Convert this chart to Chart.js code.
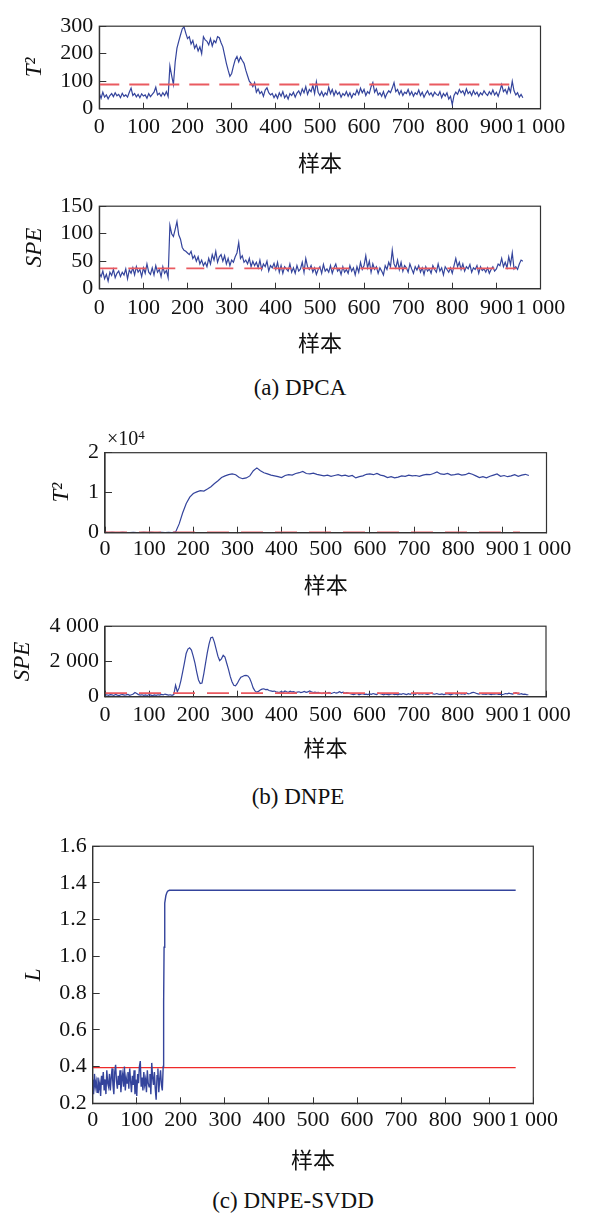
<!DOCTYPE html>
<html><head><meta charset="utf-8">
<script src="https://cdn.jsdelivr.net/npm/chart.js@4"></script>
<style>
body{margin:0;background:#fff;width:595px;height:1213px;position:relative;overflow:hidden;font-family:'Liberation Serif','Noto Sans CJK SC',serif;color:#111;}
canvas{position:absolute;left:0;}
.cap{position:absolute;left:0;text-align:center;font-size:23px;line-height:26px;}
.mult{position:absolute;font-size:20px;line-height:22px;}
.mult sup{font-size:13px;vertical-align:top;position:relative;top:-3px;}
</style></head><body>
<canvas id="c1" width="595" height="180" style="top:0px"></canvas>
<canvas id="c2" width="595" height="180" style="top:180px"></canvas>
<div class="cap" style="top:375px;width:600px">(a) DPCA</div>
<canvas id="c3" width="595" height="180" style="top:420px"></canvas>
<div class="mult" style="left:107px;top:427px">×10<sup>4</sup></div>
<canvas id="c4" width="595" height="170" style="top:600px"></canvas>
<div class="cap" style="top:784px;width:596px">(b) DNPE</div>
<canvas id="c5" width="595" height="360" style="top:820px"></canvas>
<div class="cap" style="top:1188px;width:586px">(c) DNPE-SVDD</div>
<script>
// ---------------- data ----------------
const xTickValues = [0,100,200,300,400,500,600,700,800,900,1000];

// (a) DPCA T2, one value every 4 samples (0..960)
const dpcaStep = 4;
const dpcaT2 = [
55,38,60,42,50,36,48,55,44,58,
47,52,40,56,45,50,42,60,75,48,
55,43,52,40,54,46,50,38,55,44,
52,60,78,50,56,45,58,48,62,44,
155,120,88,170,220,245,268,290,298,275,
255,262,235,248,220,232,210,225,200,262,
250,245,232,255,228,248,240,262,258,240,
225,195,165,140,118,128,155,178,190,170,
188,175,165,140,120,100,92,80,95,60,
72,55,62,45,68,76,58,50,55,40,
52,38,58,45,62,40,50,35,55,48,
60,42,57,65,50,72,58,80,52,70,
62,85,55,98,60,48,62,45,58,50,
78,55,70,48,65,52,60,42,55,48,
62,45,58,40,55,50,68,52,75,58,
70,48,62,55,80,95,60,72,50,58,
45,62,40,55,65,58,75,95,62,70,
52,66,48,60,55,70,50,62,45,58,
52,68,48,60,42,55,65,50,58,45,
60,52,48,62,40,55,46,58,35,45,
15,48,60,52,70,58,65,50,72,55,
62,48,66,52,60,45,58,50,65,55,
48,62,52,68,50,60,45,65,88,62,
70,55,78,60,100,65,50,58,42,52,
40];
const dpcaT2Limit = 88;
const dpcaT2Ticks = [0,100,200,300];

// (a) DPCA SPE
const dpcaSPE = [
28,22,32,18,26,14,30,24,35,20,
28,32,22,30,25,36,18,34,28,38,
25,40,30,35,22,38,28,45,30,26,
38,25,42,30,35,22,40,28,33,20,
115,100,95,108,122,98,90,75,70,68,
65,62,68,55,60,50,58,45,52,42,
48,40,55,45,62,52,68,48,58,62,
50,60,45,55,42,52,48,58,65,84,
55,60,48,52,45,55,40,50,42,48,
38,52,35,45,40,50,32,42,38,46,
35,48,30,42,28,40,36,32,45,30,
38,28,42,32,36,48,30,55,40,35,
42,30,38,26,35,40,28,44,32,36,
30,42,28,38,45,32,36,26,40,30,
35,28,42,32,38,25,40,30,48,35,
42,60,38,50,30,45,35,40,28,38,
32,25,42,35,48,40,70,45,38,52,
35,48,32,42,38,30,45,36,28,40,
34,42,30,38,26,40,32,36,28,42,
35,30,45,32,38,25,40,35,30,38,
28,42,55,40,48,35,45,32,40,36,
44,30,38,35,42,28,40,33,36,30,
38,28,35,40,32,36,45,42,55,40,
48,38,58,44,65,36,40,35,45,52,
50];
const dpcaSPELimit = 37;
const dpcaSPETicks = [0,50,100,150];

// (b) DNPE T2, one value every 8 samples
const dnpeT2Step = 8;
const dnpeT2 = [
60,40,80,50,30,70,50,40,60,50,
40,70,50,60,30,50,80,40,60,50,
200,2200,5000,7300,8900,9800,10200,10500,10400,10900,
11500,12300,13000,13800,14200,14500,14700,14500,13800,13500,
13700,14200,15500,16200,15500,15000,14700,14400,14200,14000,
13800,14300,14500,14400,14800,15000,15300,14800,14700,14900,
14600,14400,14200,14400,14100,14300,14500,14200,14400,14100,
14300,13700,14000,14200,14600,14700,14500,14800,14400,14200,
13800,14000,13700,13900,14200,14100,14400,14200,14300,14100,
14400,14600,14500,14800,15200,14700,14600,14800,14400,14500,
14700,14400,14500,14900,14600,14200,13800,14000,13700,14100,
14400,14700,14100,14300,14000,14200,14500,14100,14400,14600,
14300];
const dnpeT2Limit = 80;
const dnpeT2Ticks = [0,10000,20000];

// (b) DNPE SPE, one value every 4 samples
const dnpeSPEStep = 4;
const dnpeSPE = [
90,110,80,120,100,70,130,90,60,110,
120,90,100,130,80,110,150,240,180,120,
90,110,80,100,70,120,90,60,100,80,
110,90,130,100,150,120,90,110,80,120,
650,280,500,900,1400,1900,2450,2700,2770,2650,
2300,1900,1400,950,750,780,1300,1900,2500,3000,
3350,3380,3100,2700,2300,2050,2150,2350,2250,1900,
1550,1150,850,650,620,750,950,1100,1150,1200,
1210,1180,1050,800,500,330,260,300,380,430,
450,400,420,350,330,300,320,280,260,250,
300,240,320,280,250,310,270,290,240,260,
280,230,260,300,250,270,330,280,240,260,
230,250,200,180,220,160,200,240,180,210,
250,200,230,280,220,260,190,230,200,170,
150,120,160,180,110,140,170,130,150,120,
160,130,180,150,120,200,170,140,110,150,
130,100,150,170,120,140,110,160,130,180,
150,120,170,140,190,160,130,200,150,170,
140,180,150,130,170,200,160,140,180,150,
130,160,120,150,170,140,110,150,180,140,
160,190,150,170,140,200,160,180,230,250,
210,170,150,180,140,160,130,170,150,120,
160,140,170,130,150,120,140,180,160,200,
170,150,190,230,160,140,170,130,150,120,
110];
const dnpeSPELimit = 200;
const dnpeSPETicks = [0,2000,4000];

// (c) DNPE-SVDD L: normal part every 2 samples, then the fault part
const svddStep = 2;
const svddNormal = [
0.33,0.25,0.36,0.29,0.32,0.26,0.34,0.28,0.31,0.24,
0.35,0.30,0.37,0.27,0.33,0.25,0.38,0.31,0.29,0.36,
0.27,0.34,0.39,0.30,0.25,0.37,0.41,0.32,0.28,0.35,
0.30,0.38,0.26,0.33,0.36,0.29,0.40,0.27,0.34,0.31,
0.37,0.28,0.39,0.32,0.26,0.35,0.30,0.38,0.25,0.33,
0.24,0.36,0.31,0.40,0.43,0.29,0.34,0.27,0.37,0.30,
0.33,0.26,0.38,0.31,0.29,0.36,0.25,0.42,0.34,0.30,
0.37,0.28,0.22,0.35,0.39,0.26,0.33,0.38,0.30,0.27];
const svddFaultSamples = [160,161,162,163,164,166,168,170,174,180,960];
const svddFaultValues  = [0.40,0.75,1.05,1.22,1.29,1.33,1.345,1.355,1.36,1.36,1.36];
const svddLimit = 0.394;
const svddTicks = [0.2,0.4,0.6,0.8,1.0,1.2,1.4,1.6];

// ---------------- drawing ----------------
const BLUE = '#34449c', RED_DASH = '#ea5a60', RED = '#ee2a2a', AX = '#333';
const SERIF = "'Liberation Serif', 'Times New Roman', serif";
const stepPts = (vals, step) => vals.map((v, i) => ({x: i * step, y: v}));
const limitPts = (v, x1) => [{x: 0, y: v}, {x: x1, y: v}];

const frame = {id: 'frame', afterDraw(chart) {
  const {ctx, chartArea: a} = chart;
  ctx.save(); ctx.strokeStyle = AX; ctx.lineWidth = 1.2;
  ctx.strokeRect(a.left, a.top, a.right - a.left, a.bottom - a.top);
  ctx.restore();
}};

function makeChart(id, o) {
  const canvas = document.getElementById(id);
  const W = 595, H = canvas.height;
  return new Chart(canvas, {
    type: 'line',
    data: {datasets: o.datasets},
    options: {
      responsive: false, animation: false, devicePixelRatio: 1,
      layout: {padding: {left: 0, top: o.area.top, right: W - o.area.right, bottom: 0}},
      plugins: {legend: {display: false}, tooltip: {enabled: false}},
      elements: {point: {radius: 0}, line: {tension: 0}},
      scales: {
        x: {
          type: 'linear', min: 0, max: 1000,
          afterBuildTicks: s => { s.ticks = xTickValues.map(v => ({value: v})); },
          afterFit: s => { s.height = H - o.area.bottom; },
          grid: {drawOnChartArea: false, drawTicks: true, tickLength: -6, color: AX, lineWidth: 1},
          border: {display: true, color: AX, width: 1.2},
          ticks: {padding: o.xPad, color: '#111', font: {family: SERIF, size: 22}, maxRotation: 0, autoSkip: false,
                  callback: v => v === 1000 ? '1 000' : String(v)},
          title: {display: true, text: '样本', color: '#111',
                  font: {family: "'Noto Sans CJK SC', sans-serif", size: 22}, padding: {top: 0, bottom: o.xTitlePad}}
        },
        y: {
          type: 'linear', min: o.yTicks[0], max: o.yTicks[o.yTicks.length - 1],
          afterBuildTicks: s => { s.ticks = o.yTicks.map(v => ({value: v})); },
          afterFit: s => { s.width = o.area.left; },
          grid: {drawOnChartArea: false, drawTicks: true, tickLength: -7, color: AX, lineWidth: 1},
          border: {display: true, color: AX, width: 1.2},
          ticks: {padding: 13, color: '#111', font: {family: SERIF, size: 22}, autoSkip: false, callback: o.yFmt},
          title: {display: true, text: o.yTitle, color: '#111',
                  font: {family: SERIF, size: 23, style: 'italic'}, padding: {top: o.yTitlePad, bottom: 0}}
        }
      }
    },
    plugins: [frame]
  });
}

const thousands = v => v === 0 ? '0' : (v / 1000) + ' 000';

makeChart('c1', {
  area: {left: 99.3, right: 540.5, top: 20.7, bottom: 108.7}, xPad: 11, xTitlePad: 3.8, yTitlePad: 21.3,
  yTicks: dpcaT2Ticks, yFmt: v => String(v), yTitle: 'T²',
  datasets: [
    {data: limitPts(dpcaT2Limit, 945), borderColor: RED_DASH, borderWidth: 1.8, borderDash: [20, 10]},
    {data: stepPts(dpcaT2, dpcaStep), borderColor: BLUE, borderWidth: 1.2}
  ]
});
makeChart('c2', {
  area: {left: 99.3, right: 540.5, top: 16.7, bottom: 108.7}, xPad: 12, xTitlePad: 3.8, yTitlePad: 21.3,
  yTicks: dpcaSPETicks, yFmt: v => String(v), yTitle: 'SPE',
  datasets: [
    {data: limitPts(dpcaSPELimit, 945), borderColor: RED_DASH, borderWidth: 1.8, borderDash: [18, 11]},
    {data: stepPts(dpcaSPE, dpcaStep), borderColor: BLUE, borderWidth: 1.2}
  ]
});
makeChart('c3', {
  area: {left: 105, right: 546.5, top: 32.7, bottom: 112.7}, xPad: 9, xTitlePad: 1.8, yTitlePad: 48.3,
  yTicks: dnpeT2Ticks, yFmt: v => String(v / 10000), yTitle: 'T²',
  datasets: [
    {data: limitPts(dnpeT2Limit, 940), borderColor: RED_DASH, borderWidth: 1.8, borderDash: [22, 12]},
    {data: stepPts(dnpeT2, dnpeT2Step), borderColor: BLUE, borderWidth: 1.2}
  ]
});
makeChart('c4', {
  area: {left: 105, right: 546, top: 17.3, bottom: 96.7}, xPad: 11, xTitlePad: 8.8, yTitlePad: 8.8,
  yTicks: dnpeSPETicks, yFmt: thousands, yTitle: 'SPE',
  datasets: [
    {data: limitPts(dnpeSPELimit, 940), borderColor: RED_DASH, borderWidth: 1.8, borderDash: [22, 12]},
    {data: stepPts(dnpeSPE, dnpeSPEStep), borderColor: BLUE, borderWidth: 1.2}
  ]
});
makeChart('c5', {
  area: {left: 92.7, right: 533.3, top: 15.7, bottom: 283.3}, xPad: 10, xTitlePad: 6.8, yTitlePad: 19.8,
  yTicks: svddTicks, yFmt: v => v.toFixed(1), yTitle: 'L',
  datasets: [
    {data: stepPts(svddNormal, svddStep).concat(svddFaultSamples.map((s, i) => ({x: s, y: svddFaultValues[i]}))),
     borderColor: BLUE, borderWidth: 1.4},
    {data: limitPts(svddLimit, 960), borderColor: RED, borderWidth: 1.3}
  ]
});
</script>
</body></html>
